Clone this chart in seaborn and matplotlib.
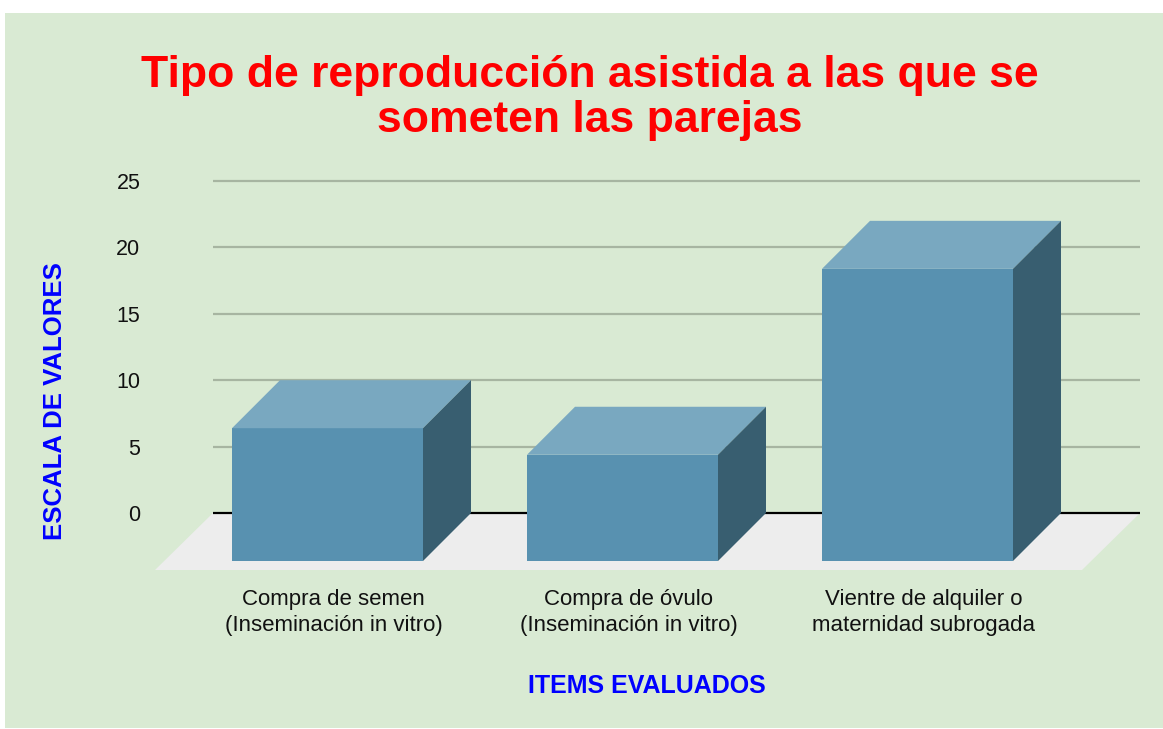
import matplotlib.pyplot as plt
import pandas as pd
import seaborn as sns
from matplotlib.patches import Polygon, Rectangle

# chart data
categories = [
    "Compra de semen\n(Inseminación in vitro)",
    "Compra de óvulo\n(Inseminación in vitro)",
    "Vientre de alquiler o\nmaternidad subrogada",
]
values = [10, 8, 22]
y_ticks = [0, 5, 10, 15, 20, 25]

title = "Tipo de reproducción asistida a las que se\nsometen las parejas"
x_title = "ITEMS EVALUADOS"
y_title = "ESCALA DE VALORES"

# colours
BG = "#d9ead3"
FRONT = "#5891b0"
TOP = "#79a8c0"
SIDE = "#385e70"
FLOOR = "#ededed"
GRID = "#a7b5a1"

sns.set_style("white")
plt.rcParams["font.family"] = ["Liberation Sans", "DejaVu Sans"]

W, H = 1163, 729
fig = plt.figure(figsize=(W / 100, H / 100), dpi=100)
fig.patch.set_facecolor("white")
fig.add_artist(Rectangle((5 / W, 1 / H), (W - 5) / W, (H - 14) / H,
                         transform=fig.transFigure, facecolor=BG,
                         edgecolor="none", zorder=-10))

# axes placed in pixel terms, data scale: 295 px per category, 13.28 px per unit
px_x, px_y = 295.0, 332.0 / 25
x0_px, y0_px = 327.5, 513.0
left, right, top, bottom = 150, 1145, 175, 575
ax = fig.add_axes([left / W, (H - bottom) / H, (right - left) / W, (bottom - top) / H])
ax.patch.set_alpha(0)

df = pd.DataFrame({"item": categories, "value": values})
sns.barplot(data=df, x="item", y="value", order=categories, color=FRONT,
            saturation=1, width=191 / px_x, edgecolor="none", ax=ax, zorder=3)

# 3D depth of the boxes
ddx, ddy = 48 / px_x, 48 / px_y
for p in ax.patches:
    p.set_y(p.get_y() - ddy)
    bx, by, bw, bh = p.get_x(), p.get_y(), p.get_width(), p.get_height()
    t = by + bh
    ax.add_patch(Polygon([(bx, t), (bx + bw, t), (bx + bw + ddx, t + ddy), (bx + ddx, t + ddy)],
                         closed=True, facecolor=TOP, edgecolor="none", zorder=3))
    ax.add_patch(Polygon([(bx + bw, by), (bx + bw, t), (bx + bw + ddx, t + ddy), (bx + bw + ddx, by + ddy)],
                         closed=True, facecolor=SIDE, edgecolor="none", zorder=3))

# floor and gridlines
gx0, gx1 = (213 - x0_px) / px_x, (1140 - x0_px) / px_x
fdx, fdy = 58 / px_x, 57 / px_y
ax.add_patch(Polygon([(gx0, 0), (gx1, 0), (gx1 - fdx, -fdy), (gx0 - fdx, -fdy)],
                     closed=True, facecolor=FLOOR, edgecolor="none", zorder=1))
ax.hlines(y_ticks[1:], gx0, gx1, color=GRID, lw=1.6, zorder=1)
ax.hlines([0], gx0, gx1, color="black", lw=1.6, zorder=1.5)

ax.set_xlim((left - x0_px) / px_x, (right - x0_px) / px_x)
ax.set_ylim(-(bottom - y0_px) / px_y, 25 + (181 - top) / px_y)
ax.set_yticks(y_ticks)
ax.set_yticklabels([str(v) for v in y_ticks])
ax.set_xticks([i + 0.02 for i in range(len(categories))])
ax.set_xticklabels(categories, linespacing=1.35)
ax.tick_params(axis="y", length=0, pad=7, labelsize=15.5, labelcolor="#111111")
ax.tick_params(axis="x", length=0, pad=10, labelsize=16, labelcolor="#111111")
ax.set_xlabel("")
ax.set_ylabel("")
sns.despine(ax=ax, left=True, bottom=True)

fig.text(590 / W, 1 - 98 / H, title, ha="center", va="center", color="red",
         fontsize=32, fontweight="bold", linespacing=1.15)
fig.text(647 / W, 1 - 686 / H, x_title, ha="center", va="center", color="blue",
         fontsize=18, fontweight="bold")
fig.text(55 / W, 1 - 401 / H, y_title, ha="center", va="center", color="blue",
         fontsize=18.5, fontweight="bold", rotation=90)

fig.savefig("out.png", dpi=100)
